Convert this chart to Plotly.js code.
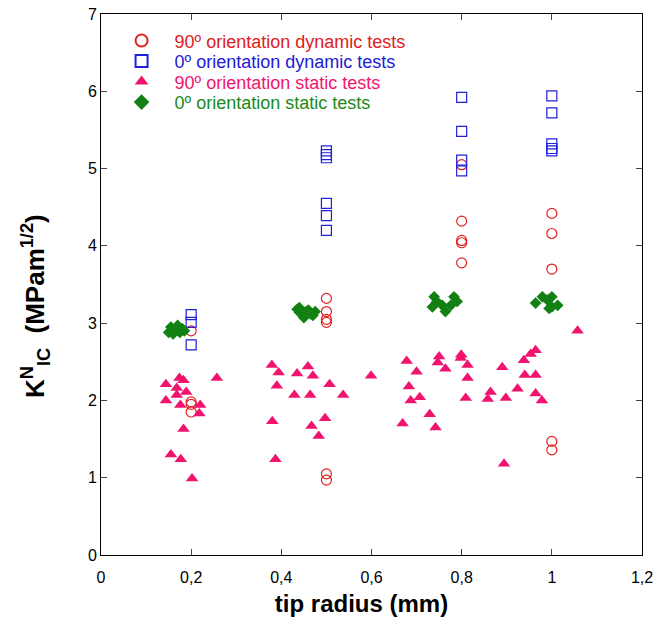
<!DOCTYPE html>
<html>
<head>
<meta charset="utf-8">
<script src="https://cdn.plot.ly/plotly-3.0.1.min.js"></script>
<style>body{margin:0;padding:0;background:#fff;}#chart{width:672px;height:626px;}</style>
</head>
<body>
<div id="chart"></div>
<script>
// 90º orientation dynamic tests (open circles)
const dyn90X = [0.2,0.2,0.2,0.2, 0.5,0.5,0.5,0.5,0.5,0.5, 0.8,0.8,0.8,0.8,0.8, 1.0,1.0,1.0,1.0,1.0];
const dyn90Y = [2.90,1.98,1.95,1.85, 3.32,3.15,3.05,3.01,1.05,0.97, 5.05,4.32,4.07,4.04,3.78, 4.42,4.16,3.70,1.47,1.36];

// 0º orientation dynamic tests (open squares)
const dyn0X = [0.2,0.2,0.2, 0.5,0.5,0.5,0.5,0.5,0.5, 0.8,0.8,0.8,0.8, 1.0,1.0,1.0,1.0,1.0];
const dyn0Y = [3.11,3.01,2.72, 5.23,5.18,5.14,4.55,4.39,4.20, 5.92,5.48,5.11,4.97, 5.94,5.72,5.32,5.26,5.23];

// 90º orientation static tests (triangles)
const sta90X = [0.144,0.174,0.183,0.168,0.189,0.144,0.168,0.176,0.220,0.218,0.257,0.183,0.155,0.177,0.202,
  0.379,0.394,0.459,0.435,0.470,0.390,0.507,0.429,0.464,0.537,0.599,0.380,0.497,0.467,0.483,0.387,
  0.678,0.700,0.683,0.687,0.707,0.669,0.729,0.742,
  0.750,0.747,0.764,0.799,0.798,0.813,0.813,0.809,
  0.864,0.858,0.890,0.898,0.894,
  0.924,0.938,0.953,0.964,0.940,0.964,0.964,0.978,1.057];
const sta90Y = [2.21,2.29,2.26,2.16,2.11,2.00,2.07,1.94,1.94,1.83,2.29,1.63,1.30,1.24,0.99,
  2.46,2.36,2.44,2.35,2.32,2.19,2.21,2.07,2.07,2.07,2.32,1.73,1.77,1.67,1.54,1.24,
  2.51,2.37,2.18,2.00,2.04,1.70,1.82,1.65,
  2.57,2.49,2.41,2.59,2.55,2.46,2.29,2.03,
  2.11,2.02,2.43,2.03,1.18,
  2.15,2.52,2.60,2.65,2.33,2.33,2.09,2.00,2.90];

// 0º orientation static tests (diamonds)
const sta0X = [0.150,0.155,0.160,0.165,0.170,0.175,0.180,0.185,0.160,
  0.435,0.440,0.445,0.450,0.455,0.460,0.465,0.470,0.475,0.440,
  0.739,0.735,0.757,0.764,0.783,0.790,0.776,0.745,
  0.964,0.979,0.990,1.000,1.000,1.013,0.994];
const sta0Y = [2.88,2.95,2.86,2.92,2.97,2.88,2.93,2.90,2.90,
  3.18,3.20,3.12,3.07,3.15,3.17,3.12,3.10,3.15,3.14,
  3.34,3.21,3.23,3.15,3.34,3.28,3.23,3.28,
  3.26,3.34,3.30,3.34,3.21,3.23,3.19];

const names = [
  '<span style="color:#e02020">90º orientation dynamic tests</span>',
  '<span style="color:#2020d8">0º orientation dynamic tests</span>',
  '<span style="color:#f0146e">90º orientation static tests</span>',
  '<span style="color:#1a8a1a">0º orientation static tests</span>'
];

const traces = [
  {x: dyn90X, y: dyn90Y, name: names[0], type: 'scatter', mode: 'markers',
   marker: {symbol: 'circle-open', size: 10, color: '#e02020', line: {width: 1.2, color: '#e02020'}}},
  {x: dyn0X, y: dyn0Y, name: names[1], type: 'scatter', mode: 'markers',
   marker: {symbol: 'square-open', size: 10, color: '#2020d8', line: {width: 1.2, color: '#2020d8'}}},
  {x: sta90X, y: sta90Y, name: names[2], type: 'scatter', mode: 'markers',
   marker: {symbol: 'triangle-up', size: 11, color: '#f0146e', line: {width: 0}}},
  {x: sta0X, y: sta0Y, name: names[3], type: 'scatter', mode: 'markers',
   marker: {symbol: 'diamond', size: 9, color: '#128012', line: {width: 0}}}
];

const layout = {
  width: 672, height: 626,
  margin: {l: 101, r: 30, t: 14, b: 71},
  paper_bgcolor: '#fff', plot_bgcolor: '#fff',
  separators: ',.',
  font: {family: 'Arial, "Liberation Sans", sans-serif', size: 16, color: '#000'},
  showlegend: true,
  legend: {x: 0.014, y: 0.99, xanchor: 'left', yanchor: 'top', bgcolor: 'rgba(0,0,0,0)',
           font: {size: 18}, tracegroupgap: 0, itemwidth: 56, itemsizing: 'constant'},
  xaxis: {range: [0, 1.2], tickvals: [0,0.2,0.4,0.6,0.8,1,1.2], ticks: 'inside', ticklen: 6,
          showline: true, linecolor: '#000', linewidth: 1, mirror: 'ticks', showgrid: false, zeroline: false,
          tickfont: {size: 16}, ticklabelstandoff: 8,
          title: {text: '<b>tip radius (mm)\u00A0\u00A0\u00A0</b>', font: {size: 24}, standoff: 9}},
  yaxis: {range: [0, 7], tickvals: [0,1,2,3,4,5,6,7], ticks: 'inside', ticklen: 6,
          showline: true, linecolor: '#000', linewidth: 1, mirror: 'ticks', showgrid: false, zeroline: false,
          tickfont: {size: 16},
          title: {text: '<b>K<sup>N</sup><sub>IC</sub>  (MPam<sup>1/2</sup>)\u00A0\u00A0\u00A0\u00A0\u00A0\u00A0</b>', font: {size: 26}, standoff: 35}}
};

Plotly.newPlot('chart', traces, layout, {displayModeBar: false, staticPlot: true}).then(function (gd) {
  // tighten legend row spacing to match the reference (about 20 px per row)
  const items = gd.querySelectorAll('.legend .traces');
  let y0 = null;
  items.forEach(function (el, i) {
    const m = /translate\(\s*([-\d.]+)[ ,]+([-\d.]+)\s*\)/.exec(el.getAttribute('transform') || '');
    if (!m) return;
    const x = parseFloat(m[1]), y = parseFloat(m[2]);
    if (y0 === null) y0 = y + 3;
    el.setAttribute('transform', 'translate(' + x + ',' + (y0 + i * 20.5) + ')');
  });
});
</script>
</body>
</html>
